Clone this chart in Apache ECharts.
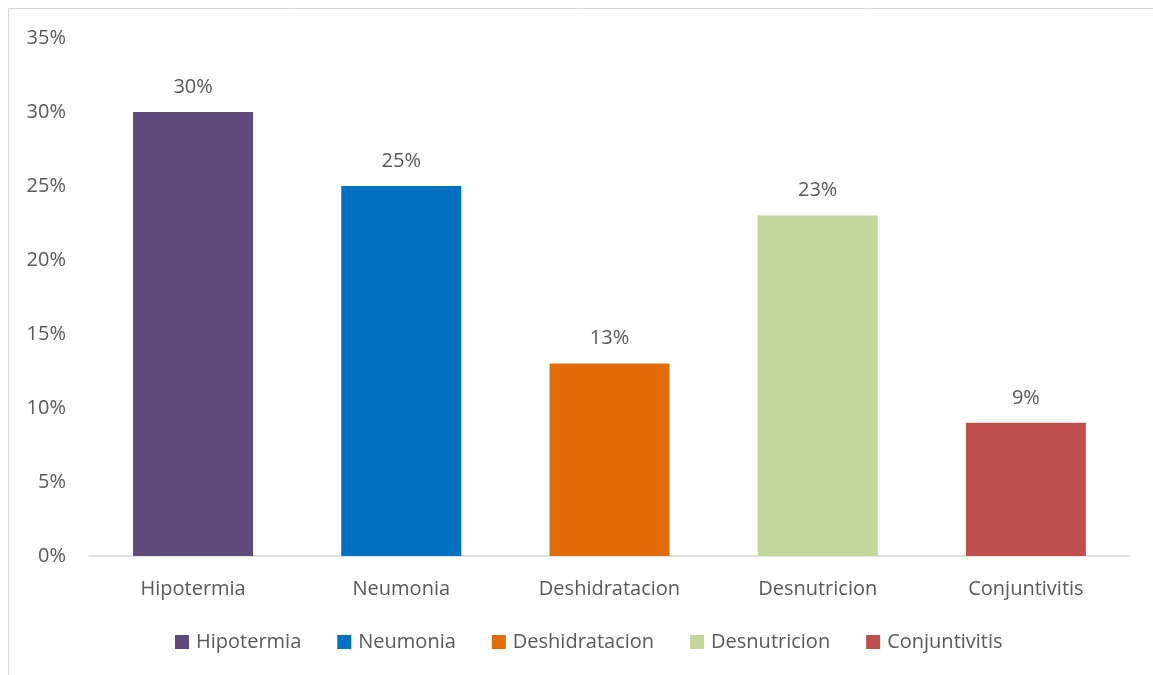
<!DOCTYPE html>
<html>
<head>
<meta charset="utf-8">
<script src="https://cdn.jsdelivr.net/npm/echarts@6/dist/echarts.min.js"></script>
<style>
  html, body { margin: 0; padding: 0; background: #fff; }
  #chart { width: 1153px; height: 675px; }
</style>
</head>
<body>
<div id="chart"></div>
<script>
const categories = ['Hipotermia', 'Neumonia', 'Deshidratacion', 'Desnutricion', 'Conjuntivitis']
const values = [30, 25, 13, 23, 9]
const colors = ['#604a7b', '#0070c0', '#e36c09', '#c3d69b', '#c0504d']
const yTicks = [0, 5, 10, 15, 20, 25, 30, 35]

const textColor = '#595959'
const font = 'Open Sans'

const chart = echarts.init(document.getElementById('chart'))

const series = categories.map((name, i) => ({
  name: name,
  type: 'bar',
  stack: 'all',
  barWidth: 120,
  itemStyle: { color: colors[i] },
  label: {
    show: true,
    position: 'top',
    distance: 15,
    formatter: (p) => p.value + '%',
    color: textColor,
    fontFamily: font,
    fontSize: 20,
  },
  data: values.map((v, j) => (j === i ? v : '-')),
}))

chart.setOption({
  backgroundColor: '#fff',
  animation: false,
  graphic: [{
    type: 'rect',
    shape: { x: 8.5, y: 8.5, width: 1200, height: 700 },
    style: { fill: 'none', stroke: '#d9d9d9', lineWidth: 1 },
    z: -1,
  }],
  grid: {
    left: 89,
    right: 23,
    top: 38,
    bottom: 119,
  },
  legend: {
    bottom: 18,
    left: 170,
    icon: 'rect',
    itemWidth: 14,
    itemHeight: 14,
    itemGap: 36,
    textStyle: {
      color: textColor,
      fontFamily: font,
      fontSize: 20,
      padding: [0, 0, 0, 2],
    },
    data: categories,
  },
  xAxis: {
    type: 'category',
    data: categories,
    axisTick: { show: false },
    axisLine: { lineStyle: { color: '#d9d9d9', width: 1.5 } },
    axisLabel: {
      margin: 23,
      color: textColor,
      fontFamily: font,
      fontSize: 20,
    },
  },
  yAxis: {
    type: 'value',
    min: yTicks[0],
    max: yTicks[yTicks.length - 1],
    interval: 5,
    axisLine: { show: false },
    axisTick: { show: false },
    splitLine: { show: false },
    axisLabel: {
      margin: 23,
      formatter: '{value}%',
      color: textColor,
      fontFamily: font,
      fontSize: 20,
    },
  },
  series: series,
})
</script>
</body>
</html>
